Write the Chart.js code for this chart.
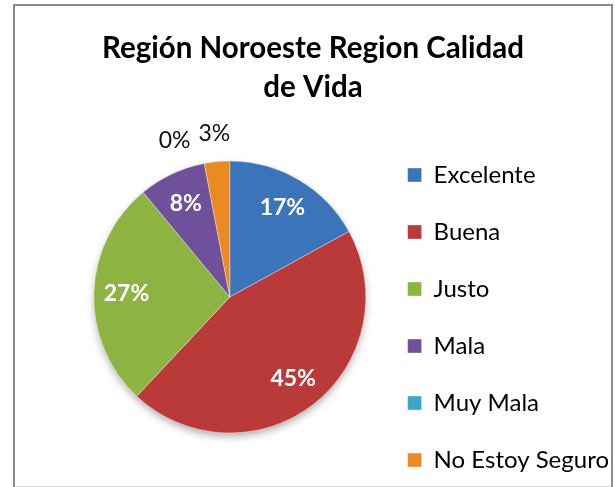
<!DOCTYPE html>
<html>
<head>
<meta charset="utf-8">
<script src="https://cdn.jsdelivr.net/npm/chart.js@4/dist/chart.umd.min.js"></script>
<style>
  html, body { margin: 0; padding: 0; background: #fff; }
  canvas { display: block; }
</style>
</head>
<body>
<canvas id="grafico" width="615" height="487"></canvas>
<script>
// datos del gráfico
const categorias = ['Excelente', 'Buena', 'Justo', 'Mala', 'Muy Mala', 'No Estoy Seguro']
const valores = [17, 45, 27, 8, 0, 3]
const colores = ['#3b74b9', '#b93a38', '#8db443', '#70509a', '#3ea6c4', '#ec8a22']
const titulo = ['Región Noroeste Region Calidad', 'de Vida']

const fuente = 'Lato, "Open Sans", sans-serif'

// marco gris alrededor del gráfico
const marco = {
    id: 'marco',
    beforeDraw(chart) {
        const ctx = chart.ctx
        ctx.save()
        ctx.strokeStyle = '#d9d9d9'
        ctx.lineWidth = 1
        ctx.beginPath()
        ctx.moveTo(14, 486.5)
        ctx.lineTo(612, 486.5)
        ctx.stroke()
        ctx.strokeStyle = '#8c8c8c'
        ctx.lineWidth = 2
        ctx.beginPath()
        ctx.moveTo(14, 490)
        ctx.lineTo(14, 5)
        ctx.lineTo(612, 5)
        ctx.lineTo(612, 490)
        ctx.stroke()
        ctx.restore()
    }
}

// el título centrado en todo el marco y la leyenda un poco más abajo y a la derecha
const ajusteCajas = {
    id: 'ajusteCajas',
    afterLayout(chart) {
        chart.titleBlock.left = 14
        chart.titleBlock.right = 612
        chart.legend.top += 23
        chart.legend.bottom += 23
        chart.legend.left += 8
        chart.legend.right += 8
    }
}

// sombra debajo del pastel
const sombraPastel = {
    id: 'sombraPastel',
    beforeDatasetsDraw(chart) {
        const arco = chart.getDatasetMeta(0).data[0]
        if (!arco) return
        const { x, y, outerRadius } = arco.getProps(['x', 'y', 'outerRadius'], true)
        const ctx = chart.ctx
        ctx.save()
        ctx.shadowColor = 'rgba(0,0,0,0.35)'
        ctx.shadowBlur = 8
        ctx.shadowOffsetY = 4
        ctx.fillStyle = '#ffffff'
        ctx.beginPath()
        ctx.arc(x, y, outerRadius - 1, 0, Math.PI * 2)
        ctx.fill()
        ctx.restore()
    }
}

// etiquetas de porcentaje
const etiquetas = {
    id: 'etiquetas',
    afterDatasetsDraw(chart) {
        const ctx = chart.ctx
        const datos = chart.data.datasets[0].data
        const total = datos.reduce((a, b) => a + b, 0)
        const arcos = chart.getDatasetMeta(0).data
        const colocadas = []
        // primero las grandes, después las pequeñas (las pequeñas se corren si chocan)
        const orden = arcos.map((a, i) => i).sort((a, b) => datos[b] - datos[a])
        ctx.save()
        ctx.textAlign = 'center'
        ctx.textBaseline = 'middle'
        orden.forEach(i => {
            const p = arcos[i].getProps(['x', 'y', 'startAngle', 'endAngle', 'outerRadius'], true)
            const medio = (p.startAngle + p.endAngle) / 2
            const texto = Math.round(datos[i] / total * 100) + '%'
            const dentro = datos[i] >= 5
            const r = dentro ? p.outerRadius * 0.76 : p.outerRadius + 28
            let lx = p.x + Math.cos(medio) * r
            let ly = p.y + Math.sin(medio) * r
            ctx.font = (dentro ? 'bold ' : '') + '23px ' + fuente
            const ancho = ctx.measureText(texto).width
            // evitar que se encimen
            colocadas.forEach(c => {
                if (Math.abs(c.y - ly) < 20 && Math.abs(c.x - lx) < (c.w + ancho) / 2 + 4) {
                    lx = c.x - (c.w + ancho) / 2 - 8
                    ly = c.y + 7
                }
            })
            colocadas.push({ x: lx, y: ly, w: ancho })
            ctx.fillStyle = dentro ? '#ffffff' : '#111111'
            ctx.fillText(texto, lx, ly)
        })
        ctx.restore()
    }
}

const ctx = document.getElementById('grafico').getContext('2d')

new Chart(ctx, {
    type: 'pie',
    data: {
        labels: categorias,
        datasets: [{
            data: valores,
            backgroundColor: colores,
            borderColor: 'rgba(255,255,255,0.35)',
            borderWidth: 1
        }]
    },
    plugins: [marco, ajusteCajas, sombraPastel, etiquetas],
    options: {
        responsive: false,
        animation: false,
        radius: 136,
        layout: { padding: { left: 93, right: 4, top: 0, bottom: 0 } },
        plugins: {
            tooltip: { enabled: false },
            title: {
                display: true,
                text: titulo,
                color: '#000',
                font: { family: fuente, size: 29.5, weight: 'bold', lineHeight: 39 / 29.5 },
                padding: { top: 29, bottom: 0 }
            },
            legend: {
                position: 'right',
                fullSize: false,
                align: 'start',
                labels: {
                    color: '#000',
                    font: { family: fuente, size: 24 },
                    boxWidth: 14,
                    boxHeight: 14,
                    padding: 33
                }
            }
        }
    }
})
</script>
</body>
</html>
